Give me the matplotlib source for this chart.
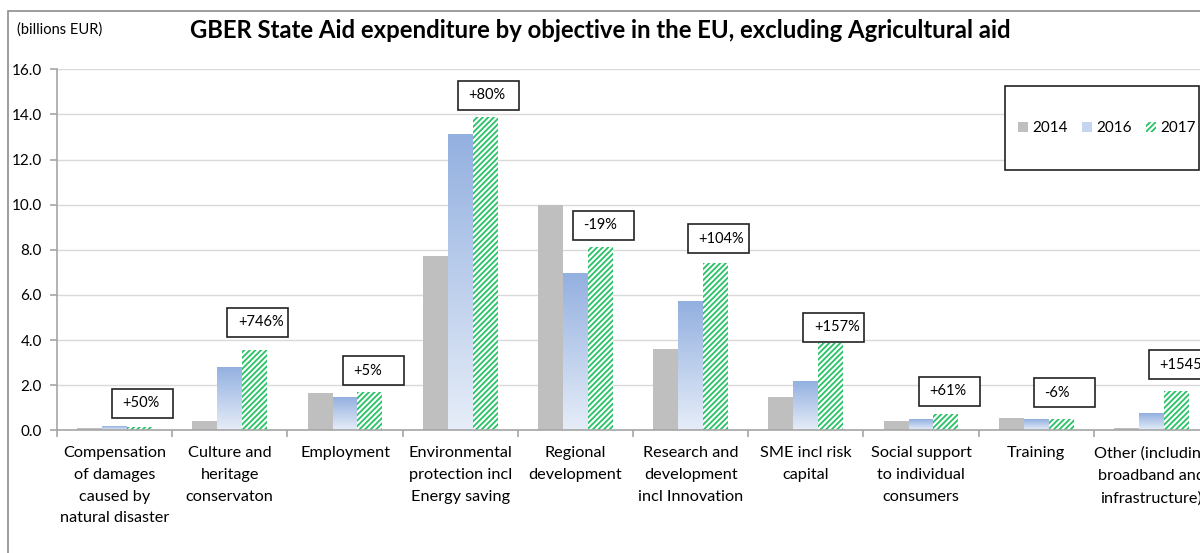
import numpy as np
import matplotlib
matplotlib.use("Agg")
import matplotlib.pyplot as plt
from matplotlib.patches import Rectangle, Patch
from matplotlib.colors import LinearSegmentedColormap

plt.rcParams["font.family"] = ["Lato", "DejaVu Sans"]
plt.rcParams["hatch.linewidth"] = 1.3

# --- data (billions EUR) ---
categories = [
    "Compensation\nof damages\ncaused by\nnatural disaster",
    "Culture and\nheritage\nconservaton",
    "Employment",
    "Environmental\nprotection incl\nEnergy saving",
    "Regional\ndevelopment",
    "Research and\ndevelopment\nincl Innovation",
    "SME incl risk\ncapital",
    "Social support\nto individual\nconsumers",
    "Training",
    "Other (including\nbroadband and\ninfrastructure)",
]
years = ["2014", "2016", "2017"]
aid_2014 = [0.09, 0.42, 1.64, 7.72, 9.99, 3.61, 1.49, 0.42, 0.56, 0.10]
aid_2016 = [0.17, 2.79, 1.46, 13.11, 6.93, 5.71, 2.15, 0.47, 0.46, 0.73]
aid_2017 = [0.15, 3.55, 1.71, 13.88, 8.14, 7.43, 3.89, 0.71, 0.51, 1.73]
change_labels = ["+50%", "+746%", "+5%", "+80%", "-19%", "+104%",
                 "+157%", "+61%", "-6%", "+1545%"]
# where the change boxes sit (bottom edge, in axis units)
label_bottom = [0.55, 4.14, 2.0, 14.2, 8.45, 7.85, 3.92, 1.09, 1.03, 2.27]

GRAY = "#bfbfbf"
BLUE_TOP = "#93b0e0"
BLUE_BOT = "#e6edf8"
GREEN = "#27c265"

W, H = 1200, 553
fig = plt.figure(figsize=(W / 100, H / 100), dpi=100)

# outer chart border (runs off the right and bottom of the picture)
fig.add_artist(Rectangle((7.5 / W, -0.1), 1.2, 1 - 10.7 / H + 0.1,
                         transform=fig.transFigure, fill=False,
                         edgecolor="#8c8c8c", linewidth=1.2))

ax = fig.add_axes([57 / W, 122.7 / H, (1209 - 57) / W, 361 / H])

x = np.arange(len(categories))
bw = 0.217
ax.bar(x - bw, aid_2014, bw, color=GRAY, linewidth=0, zorder=2)

# 2016 with vertical gradient per bar
cmap = LinearSegmentedColormap.from_list("blu", [BLUE_BOT, BLUE_TOP])
grad = np.linspace(0, 1, 256).reshape(-1, 1)
for xi, v in zip(x, aid_2016):
    ax.imshow(grad, cmap=cmap, origin="lower", aspect="auto",
              extent=(xi - bw / 2, xi + bw / 2, 0, v), zorder=2,
              interpolation="bilinear")

ax.bar(x + bw, aid_2017, bw, color="white", edgecolor=GREEN,
       hatch="//////", linewidth=0, zorder=2)

ax.set_xlim(-0.5, len(categories) - 0.5)
ax.set_ylim(0, 16)
ax.set_yticks(np.arange(0, 16.1, 2))
ax.set_yticklabels([f"{t:.1f}" for t in np.arange(0, 16.1, 2)], fontsize=11)
ax.yaxis.grid(True, color="#d9d9d9", linewidth=1.0, zorder=0)
ax.set_axisbelow(True)

ax.set_xticks(np.arange(-0.5, len(categories), 1))
ax.set_xticklabels([])
ax.set_xticks(x, minor=True)
ax.set_xticklabels(categories, minor=True, fontsize=11.7, linespacing=1.7)
ax.tick_params(axis="x", which="minor", length=0, pad=11.5)
ax.tick_params(axis="x", which="major", length=5, color="#a6a6a6", width=1.2)
ax.tick_params(axis="y", length=5, color="#a6a6a6", width=1.2, pad=6)

for s in ["top", "right"]:
    ax.spines[s].set_visible(False)
for s in ["left", "bottom"]:
    ax.spines[s].set_color("#a6a6a6")
    ax.spines[s].set_linewidth(1.2)

# change boxes
box_w = 61 / 115.2
box_h = 29 / (361 / 16)
for xi, yb, txt in zip(x, label_bottom, change_labels):
    ax.add_patch(Rectangle((xi - 0.02, yb), box_w, box_h, facecolor="white",
                           edgecolor="#222222", linewidth=1.2, zorder=4,
                           clip_on=False))
    ax.text(xi - 0.02 + 0.09, yb + box_h / 2, txt, ha="left", va="center",
            fontsize=10.5, zorder=5, clip_on=False)

# legend inside its own framed box
fig.add_artist(Rectangle((1005 / W, 1 - 170 / H), 194 / W, 84 / H,
                         transform=fig.transFigure, facecolor="white",
                         edgecolor="#222222", linewidth=1.2, zorder=5))
handles = [
    Patch(facecolor=GRAY, linewidth=0),
    Patch(facecolor="#c6d5ef", linewidth=0),
    Patch(facecolor="white", edgecolor=GREEN, hatch="//////", linewidth=0),
]
leg = fig.legend(handles, years, loc="center",
                 bbox_to_anchor=((1005 + 102) / W, 1 - 128 / H),
                 ncol=3, frameon=False, fontsize=11, handlelength=0.65,
                 handleheight=0.65, handletextpad=0.3, columnspacing=0.9)
leg.set_zorder(6)

fig.text(0.5, 1 - 30 / H, "GBER State Aid expenditure by objective in the EU, "
         "excluding Agricultural aid", ha="center", va="center",
         fontsize=17.2, fontweight="bold")
fig.text(17 / W, 1 - 30 / H, "(billions EUR)", ha="left", va="center",
         fontsize=10.5)

fig.savefig("out.png", dpi=100)
